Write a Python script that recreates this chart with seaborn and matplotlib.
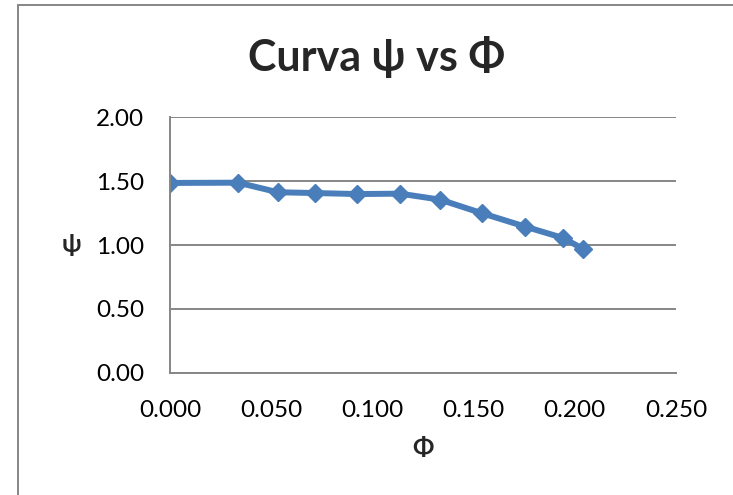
import matplotlib
matplotlib.use("Agg")
import matplotlib.pyplot as plt
import seaborn as sns
from matplotlib.lines import Line2D

# values
phi = [0.000, 0.0337, 0.0533, 0.0715, 0.0925, 0.1137, 0.1335, 0.1543, 0.1755, 0.1942, 0.2041]
psi = [1.486, 1.488, 1.413, 1.407, 1.399, 1.402, 1.355, 1.248, 1.144, 1.055, 0.969]

x_ticks = [0.0, 0.05, 0.10, 0.15, 0.20, 0.25]
y_ticks = [0.0, 0.5, 1.0, 1.5, 2.0]

sns.set_style("white")
plt.rcParams['font.family'] = ['Lato', 'DejaVu Sans']

grey = '#868686'
blue = '#4A7EBB'

fig = plt.figure(figsize=(7.33, 4.95), dpi=100)
ax = fig.add_axes([170 / 733, 1 - 372.7 / 495, (676 - 170) / 733, (372.7 - 117.3) / 495])

sns.lineplot(x=phi, y=psi, ax=ax, color=blue, linewidth=4.3, marker='D',
             markersize=9.5, markeredgecolor=blue, markeredgewidth=1, sort=False)

ax.set_xlim(0, 0.25)
ax.set_ylim(0, 2.0)
ax.set_xticks(x_ticks)
ax.set_yticks(y_ticks)
ax.set_xticklabels([f'{v:.3f}' for v in x_ticks])
ax.set_yticklabels([f'{v:.2f}' for v in y_ticks])

for side in ['top', 'right']:
    ax.spines[side].set_visible(False)
for side in ['left', 'bottom']:
    ax.spines[side].set_color(grey)
    ax.spines[side].set_linewidth(1.4)

ax.yaxis.grid(True, color=grey, linewidth=1.4)
ax.xaxis.grid(False)
ax.set_axisbelow(True)
ax.tick_params(axis='both', direction='out', length=6.5, width=1.4, color=grey,
               labelsize=17.5, labelcolor='black', pad=12)
ax.tick_params(axis='x', pad=13)

ax.set_xlabel('Φ', fontsize=18, fontweight='bold', labelpad=12)
ax.set_ylabel('ψ', fontsize=18, fontweight='bold', rotation=0, labelpad=18, va='center')

fig.text(377 / 733, 1 - 57 / 495, 'Curva ψ vs Φ', fontsize=31, fontweight='bold',
         ha='center', va='center')

# outer chart border (top and left visible)
fig.add_artist(Line2D([18 / 733, 1], [1 - 5 / 495, 1 - 5 / 495], color=grey, linewidth=1.4,
                      transform=fig.transFigure))
fig.add_artist(Line2D([18 / 733, 18 / 733], [0, 1 - 5 / 495], color=grey, linewidth=1.4,
                      transform=fig.transFigure))

fig.savefig('out.png', dpi=100)
